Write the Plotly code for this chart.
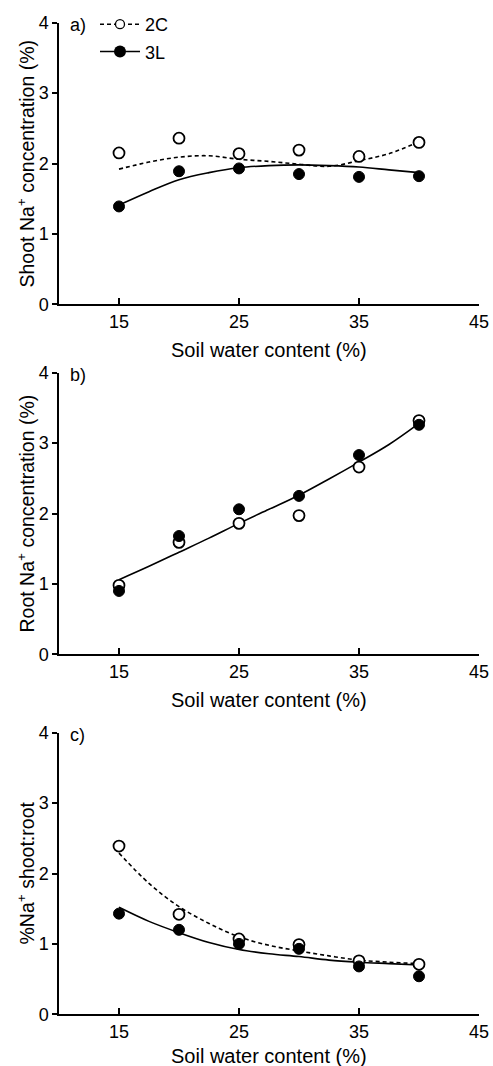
import plotly.graph_objects as go

# ---- data ----
swc = [15, 20, 25, 30, 35, 40]

shoot_2C = [2.15, 2.36, 2.14, 2.19, 2.10, 2.30]
shoot_3L = [1.39, 1.89, 1.93, 1.85, 1.81, 1.82]
root_2C = [0.98, 1.59, 1.86, 1.97, 2.66, 3.32]
root_3L = [0.90, 1.68, 2.06, 2.25, 2.83, 3.26]
ratio_2C = [2.39, 1.42, 1.07, 0.99, 0.76, 0.71]
ratio_3L = [1.43, 1.20, 1.00, 0.93, 0.68, 0.54]

# fitted curves
fit_x = [15, 17.5, 20, 22.5, 25, 27.5, 30, 32.5, 35, 37.5, 40]
fit_shoot_2C = [1.92, 2.02, 2.09, 2.11, 2.06, 2.03, 1.99, 1.96, 2.04, 2.14, 2.31]
fit_shoot_3L = [1.41, 1.60, 1.77, 1.87, 1.94, 1.97, 1.98, 1.97, 1.95, 1.91, 1.87]
fit_root = [1.06, 1.25, 1.45, 1.65, 1.86, 2.06, 2.26, 2.49, 2.73, 2.98, 3.28]
fit_ratio_2C = [2.29, 1.86, 1.53, 1.29, 1.10, 0.98, 0.90, 0.83, 0.77, 0.74, 0.72]
fit_ratio_3L = [1.52, 1.32, 1.16, 1.02, 0.92, 0.86, 0.82, 0.77, 0.74, 0.72, 0.70]

x_ticks = [15, 25, 35, 45]
y_ticks = [0, 1, 2, 3, 4]
series_names = ["2C", "3L"]
panel_labels = ["a)", "b)", "c)"]
y_titles = ["Shoot Na<sup>+</sup> concentration (%)",
            "Root Na<sup>+</sup> concentration (%)",
            "%Na<sup>+</sup> shoot:root"]
x_title = "Soil water content (%)"

# ---- layout geometry (pixels) ----
W, H = 493, 1066
x_left, x_right = 59, 479
panels_px = [(22.7, 304.3), (372.7, 654.3), (732.7, 1014.3)]
x_title_offsets = [46, 46, 42]
FONT = "Arial, Liberation Sans, sans-serif"

fig = go.Figure()

dash_style = "4px,3px"
open_marker = dict(symbol="circle", size=11, color="white",
                   line=dict(color="black", width=1.8))
filled_marker = dict(symbol="circle", size=11, color="black",
                     line=dict(color="black", width=1))

def add_panel(i, fits, pts_open, pts_filled):
    xa = "x" if i == 0 else f"x{i+1}"
    ya = "y" if i == 0 else f"y{i+1}"
    for fy, dash in fits:
        fig.add_trace(go.Scatter(x=fit_x, y=fy, mode="lines", line_shape="spline",
                                 line=dict(color="black", width=1.6, dash=dash),
                                 showlegend=False, xaxis=xa, yaxis=ya, hoverinfo="skip"))
    fig.add_trace(go.Scatter(x=swc, y=pts_open, mode="markers", marker=open_marker,
                             name=series_names[0], showlegend=False, xaxis=xa, yaxis=ya))
    fig.add_trace(go.Scatter(x=swc, y=pts_filled, mode="markers", marker=filled_marker,
                             name=series_names[1], showlegend=False, xaxis=xa, yaxis=ya))

add_panel(0, [(fit_shoot_2C, dash_style), (fit_shoot_3L, "solid")], shoot_2C, shoot_3L)
add_panel(1, [(fit_root, "solid")], root_2C, root_3L)
add_panel(2, [(fit_ratio_2C, dash_style), (fit_ratio_3L, "solid")], ratio_2C, ratio_3L)

# legend entries
fig.add_trace(go.Scatter(x=[None], y=[None], mode="lines+markers", name=series_names[0],
                         line=dict(color="black", width=1.5, dash=dash_style),
                         marker=dict(symbol="circle", size=9, color="white",
                                     line=dict(color="black", width=1.3)),
                         legendgroup="a"))
fig.add_trace(go.Scatter(x=[None], y=[None], mode="lines+markers", name=series_names[1],
                         line=dict(color="black", width=1.5),
                         marker=dict(symbol="circle", size=12, color="black"),
                         legendgroup="b"))

axis_common = dict(showline=True, linecolor="black", linewidth=1.5, showgrid=False,
                   zeroline=False, tickcolor="black", tickwidth=1.5, automargin=False,
                   tickfont=dict(family=FONT, size=18, color="black"))

annotations = []
for i, (top, bot) in enumerate(panels_px):
    ydom = [1 - bot / H, 1 - top / H]
    xkey = "xaxis" if i == 0 else f"xaxis{i+1}"
    ykey = "yaxis" if i == 0 else f"yaxis{i+1}"
    anchor_x = "y" if i == 0 else f"y{i+1}"
    anchor_y = "x" if i == 0 else f"x{i+1}"
    fig.update_layout(**{
        xkey: dict(domain=[x_left / W, x_right / W], range=[10, 45], tickvals=x_ticks,
                   ticks="inside", ticklen=7, anchor=anchor_x, **axis_common),
        ykey: dict(domain=ydom, range=[0, 4], tickvals=y_ticks, ticks="outside",
                   ticklen=5, anchor=anchor_y, **axis_common),
    })
    # panel label
    annotations.append(dict(text=panel_labels[i], x=68 / W, y=1 - (top + 2) / H,
                            xref="paper", yref="paper", xanchor="left", yanchor="middle",
                            showarrow=False, font=dict(family=FONT, size=18, color="black")))
    # x title
    annotations.append(dict(text=x_title, x=(x_left + x_right) / 2 / W,
                            y=1 - (bot + x_title_offsets[i]) / H,
                            xref="paper", yref="paper", xanchor="center", yanchor="middle",
                            showarrow=False, font=dict(family=FONT, size=20, color="black")))
    # y title
    annotations.append(dict(text=y_titles[i], x=25 / W, y=1 - (top + bot) / 2 / H,
                            xref="paper", yref="paper", xanchor="center", yanchor="middle",
                            textangle=-90, showarrow=False,
                            font=dict(family=FONT, size=19.5, color="black")))

fig.update_layout(
    width=W, height=H, margin=dict(l=0, r=0, t=0, b=0),
    paper_bgcolor="white", plot_bgcolor="white",
    annotations=annotations,
    showlegend=True,
    legend=dict(x=95 / W, y=1 - 6 / H, xanchor="left", yanchor="top",
                font=dict(family=FONT, size=18, color="black"),
                bgcolor="rgba(0,0,0,0)", tracegroupgap=1, itemwidth=40),
)

fig.write_html("out.html")
